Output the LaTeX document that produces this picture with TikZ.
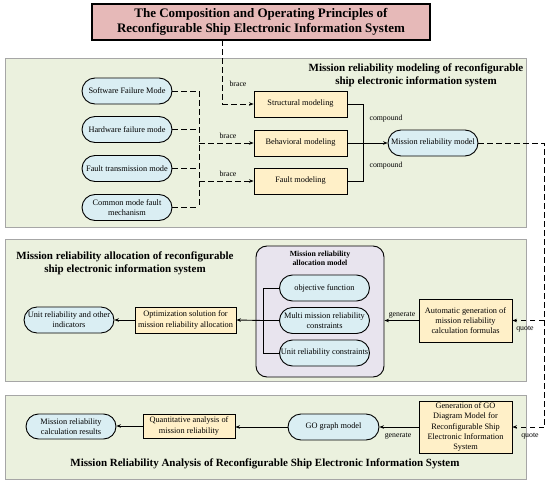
\documentclass[tikz,border=0pt]{standalone}
\usepackage{fontspec}
\setmainfont{Liberation Serif}
\usetikzlibrary{arrows.meta,shapes.misc}
\definecolor{panelfill}{HTML}{EBF1DE}
\definecolor{panelline}{HTML}{A6A6A6}
\definecolor{pillblue}{HTML}{DAEEF3}
\definecolor{boxyellow}{HTML}{FFF0C8}
\definecolor{titlepink}{HTML}{E6B9B8}
\definecolor{lavender}{HTML}{E8E4EE}
\begin{document}
\begin{tikzpicture}[x=1pt,y=-1pt,
  txt/.style={font=\fontsize{8.3}{10.3}\selectfont, align=center},
  pill/.style={txt, rounded rectangle, draw=black, line width=0.9pt, fill=pillblue, minimum width=92pt, minimum height=26pt, inner sep=1pt},
  ybox/.style={txt, rectangle, draw=black, line width=0.9pt, fill=boxyellow, minimum width=93pt, minimum height=26pt, inner sep=1pt},
  panel/.style={draw=panelline, line width=0.8pt, fill=panelfill},
  ptitle/.style={font=\fontsize{11}{13}\selectfont\bfseries, align=center},
  lbl/.style={font=\fontsize{7.8}{9}\selectfont, inner sep=1pt},
  dsh/.style={dashed, dash pattern=on 5.5pt off 3.5pt, line width=1pt},
  solid line/.style={line width=0.9pt},
  arr/.style={-{Stealth[length=4.5pt,width=3.5pt]}}
]
\useasboundingbox (0,0) rectangle (550,482);
% panels
\path[panel] (5,58) rectangle (526,227);
\path[panel] (5,239) rectangle (526,381);
\path[panel] (5,395) rectangle (526,479);

% title
\node[draw=black, line width=1.3pt, fill=titlepink, minimum width=338pt, minimum height=36pt, inner sep=1pt,
  font=\fontsize{13}{15}\selectfont\bfseries, align=center] (title) at (261,22)
  {The Composition and Operating Principles of\\Reconfigurable Ship Electronic Information System};

% panel 1
\node[ptitle] (p1t) at (416,75) {Mission reliability modeling of reconfigurable\\ship electronic information system};
\node[pill] (sfm) at (127,91) {Software Failure Mode};
\node[pill] (hfm) at (127,129.5) {Hardware failure mode};
\node[pill] (ftm) at (127,168.5) {Fault transmission mode};
\node[pill] (cmf) at (127,207.5) {Common mode fault\\mechanism};
\node[ybox] (struct) at (300.5,104) {Structural modeling};
\node[ybox] (behav) at (300.5,143) {Behavioral modeling};
\node[ybox] (fault) at (300.5,181) {Fault modeling};
\node[pill] (mrm) at (433,143) {Mission reliability model};

\coordinate (tdrop) at (222,40);
\coordinate (tcorner) at (222,104);
\coordinate (jtop) at (199,91);
\coordinate (jbot) at (199,207.5);
\draw[dsh] (tdrop) -- (tcorner);
\draw[dsh,arr] (tcorner) -- (struct.west);
\node[lbl] (b1) at (238,84) {brace};
\draw[dsh] (sfm.east) -- (jtop);
\draw[dsh] (hfm.east) -- (hfm.east -| jtop);
\draw[dsh] (ftm.east) -- (ftm.east -| jtop);
\draw[dsh] (cmf.east) -- (jbot);
\draw[dsh] (jtop) -- (jbot);
\draw[dsh,arr] (jtop |- behav.west) -- (behav.west);
\draw[dsh,arr] (jtop |- fault.west) -- (fault.west);
\node[lbl] (b2) at (228,136) {brace};
\node[lbl] (b3) at (228,174) {brace};

\coordinate (cx) at (363.5,143);
\draw[solid line] (struct.east) -- (struct.east -| cx) -- (fault.east -| cx) -- (fault.east);
\draw[solid line,arr] (behav.east) -- (mrm.west);
\node[lbl] (c1) at (386,119) {compound};
\node[lbl] (c2) at (386,166) {compound};

% right dashed quote line
\coordinate (qtop) at (544,143);
\coordinate (q1) at (544,320.5);
\coordinate (q2) at (544,427);
\draw[dsh] (mrm.east) -- (qtop) -- (q2);

% panel 2
\node[ptitle] (p2t) at (125,263.5) {Mission reliability allocation of reconfigurable\\ship electronic information system};
\node[draw=black, line width=0.9pt, fill=lavender, rounded corners=11pt, minimum width=128pt, minimum height=131pt] (alloc) at (320,311.5) {};
\node[font=\fontsize{7.8}{9.3}\selectfont\bfseries, align=center] (alloct) at (320,258.5) {Mission reliability\\allocation model};
\node[pill] (obj) at (324.5,288) {objective function};
\node[pill] (multi) at (324.5,320.5) {Multi mission reliability\\constraints};
\node[pill] (unitc) at (324.5,353) {Unit reliability constraints};
\coordinate (bx) at (263,320.5);
\draw[solid line] (obj.west) -- (obj.west -| bx) -- (unitc.west -| bx) -- (unitc.west);
\draw[solid line] (multi.west) -- (bx);
\node[ybox, minimum width=101pt] (optim) at (185.5,320) {Optimization solution for\\mission reliability allocation};
\node[pill, minimum width=88pt] (unitr) at (69,320) {Unit reliability and other\\indicators};
\draw[solid line,arr] (bx) -- (optim.east);
\draw[solid line,arr] (optim.west) -- (unitr.east);
\node[ybox, minimum height=43pt] (auto) at (465.5,320.5) {Automatic generation of\\mission reliability\\calculation formulas};
\draw[solid line,arr] (auto.west) -- (alloc.east |- auto.west);
\node[lbl] (g1) at (402,315) {generate};
\draw[dsh,arr] (q1) -- (auto.east);
\node[lbl] (qt1) at (525,329) {quote};

% panel 3
\node[ybox, minimum height=52pt] (gogen) at (465.5,427) {Generation of GO\\Diagram Model for\\Reconfigurable Ship\\Electronic Information\\System};
\node[pill, minimum width=93pt] (gograph) at (333.5,427) {GO graph model};
\node[ybox, minimum width=92pt, minimum height=24pt] (quant) at (189,426) {Quantitative analysis of\\mission reliability};
\node[pill, minimum width=92pt, minimum height=25pt] (results) at (71,426.5) {Mission reliability\\calculation results};
\draw[dsh,arr] (q2) -- (gogen.east);
\node[lbl] (qt2) at (530,436) {quote};
\draw[solid line,arr] (gogen.west) -- (gograph.east);
\node[lbl] (g2) at (398,436) {generate};
\draw[solid line,arr] (gograph.west) -- (quant.east |- gograph.west);
\draw[solid line,arr] (quant.west) -- (results.east |- quant.west);
\node[ptitle] (p3t) at (265,464) {Mission Reliability Analysis of Reconfigurable Ship Electronic Information System};
\end{tikzpicture}
\end{document}
